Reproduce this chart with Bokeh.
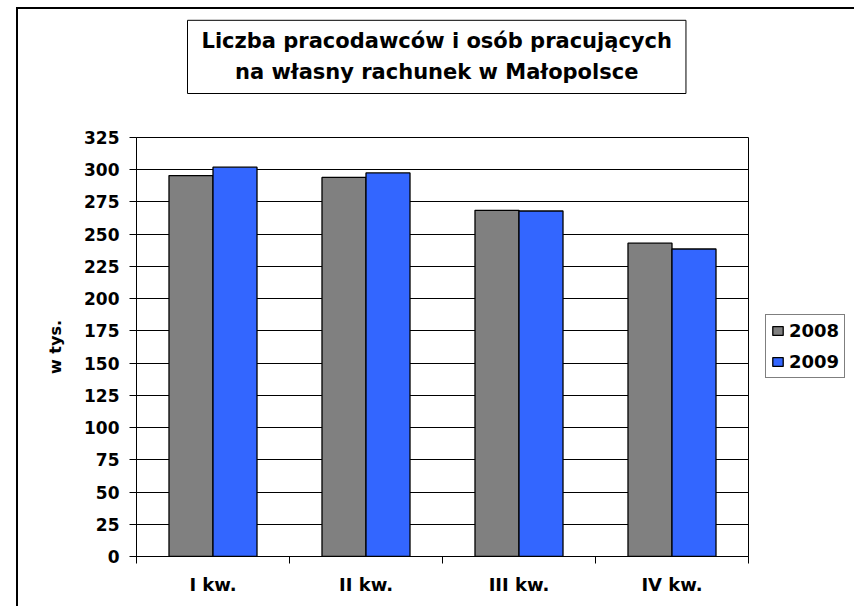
from bokeh.plotting import figure
from bokeh.models import ColumnDataSource, FixedTicker, Range1d, Title
from bokeh.transform import dodge
from bokeh.embed import file_html
from bokeh.resources import INLINE

# ---- data ----
quarters = ["I kw.", "II kw.", "III kw.", "IV kw."]
y2008 = [295.5, 294, 268.5, 243]
y2009 = [302, 297.5, 268, 238.5]
y_ticks = [0, 25, 50, 75, 100, 125, 150, 175, 200, 225, 250, 275, 300, 325]
title_text = "Liczba pracodawców i osób pracujących\nna własny rachunek w Małopolsce"
y_label = "w tys."

FONT = "DejaVu Sans"

xpos = [i + 0.5 for i in range(len(quarters))]
bounds = list(range(len(quarters) + 1))

src = ColumnDataSource(dict(x=xpos, y2008=y2008, y2009=y2009))

p = figure(title=None, frame_width=612, frame_height=419,
           min_border_left=118, min_border_right=106,
           min_border_top=128, min_border_bottom=50,
           x_range=Range1d(0, len(quarters)), y_range=Range1d(0, y_ticks[-1]),
           output_backend="svg", toolbar_location=None)
p.margin = (7, 0, 0, 16)
p.styles = {"border-top": "2px solid black", "border-left": "2px solid black"}
p.background_fill_color = "white"
p.border_fill_color = "white"
p.outline_line_color = "black"
p.outline_line_width = 1

bw = 0.2876
p.vbar(x=dodge("x", -bw / 2, range=p.x_range), top="y2008", width=bw, source=src,
       fill_color="#808080", line_color="black", line_width=1.3, legend_label="2008")
p.vbar(x=dodge("x", bw / 2, range=p.x_range), top="y2009", width=bw, source=src,
       fill_color="#3366FF", line_color="black", line_width=1.3, legend_label="2009")

# x axis
xa = p.xaxis[0]
xa.ticker = FixedTicker(ticks=xpos, minor_ticks=bounds)
xa.major_label_overrides = {x: q for x, q in zip(xpos, quarters)}
xa.major_tick_out = 0
xa.major_tick_in = 0
xa.minor_tick_out = 7
xa.minor_tick_in = 0
xa.minor_tick_line_color = "black"
xa.axis_line_color = "black"
xa.major_label_text_font = FONT
xa.major_label_text_font_style = "bold"
xa.major_label_text_font_size = "18px"
xa.major_label_text_color = "black"
xa.major_label_standoff = 10

# y axis
ya = p.yaxis[0]
ya.ticker = FixedTicker(ticks=y_ticks)
ya.major_tick_out = 7
ya.major_tick_in = 0
ya.minor_tick_line_color = None
ya.axis_line_color = "black"
ya.major_tick_line_color = "black"
ya.major_label_text_font = FONT
ya.major_label_text_font_style = "bold"
ya.major_label_text_font_size = "17px"
ya.major_label_text_color = "black"
ya.major_label_standoff = 10
ya.axis_label = y_label
ya.axis_label_text_font = FONT
ya.axis_label_text_font_style = "bold"
ya.axis_label_text_font_size = "16px"
ya.axis_label_text_color = "black"
ya.axis_label_standoff = 16

p.xgrid.grid_line_color = None
p.ygrid.ticker = FixedTicker(ticks=y_ticks)
p.ygrid.grid_line_color = "black"
p.ygrid.grid_line_width = 1

# legend on the right
lg = p.legend[0]
p.center.remove(lg)
p.add_layout(lg, "right")
lg.location = (17, 178)
lg.border_line_color = "black"
lg.border_line_width = 1
lg.padding = 5
lg.spacing = 10
lg.margin = 0
lg.glyph_width = 13
lg.glyph_height = 11
lg.label_standoff = 5
lg.label_height = 18
lg.label_text_font = FONT
lg.label_text_font_style = "bold"
lg.label_text_font_size = "18px"
lg.label_text_color = "black"
lg.background_fill_color = "white"

# spacer between frame and title box (closest to the frame)
spacer = Title(text=" ", text_font_size="1px", standoff=36, padding=0,
               border_line_color=None, background_fill_color=None)
p.add_layout(spacer, "above")

# title box
t = Title(text=title_text, align="left", text_align="center", offset=51,
          vertical_align="bottom", standoff=10,
          text_font=FONT, text_font_style="bold", text_font_size="21px",
          text_line_height=1.3, text_color="black",
          border_line_color="black", border_line_width=1,
          background_fill_color="white",
          padding=dict(left=14, right=14, top=9, bottom=9))
p.add_layout(t, "above")

open("out.html", "w").write(file_html(p, INLINE))
